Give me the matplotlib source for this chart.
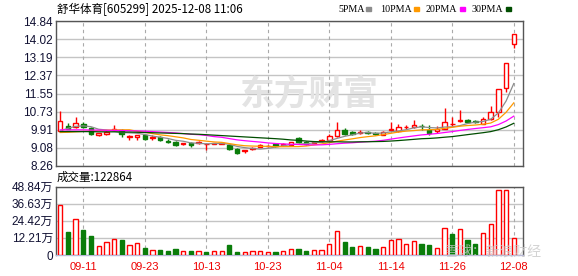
import numpy as np
import pandas as pd
import matplotlib
matplotlib.use("Agg")
import matplotlib.pyplot as plt

# ---- data ----
dates = ["09-08", "09-09", "09-10", "09-11", "09-12", "09-15", "09-16", "09-17", "09-18", "09-19",
         "09-22", "09-23", "09-24", "09-25", "09-26", "09-29", "09-30",
         "10-09", "10-10", "10-13", "10-14", "10-15", "10-16", "10-17", "10-20", "10-21", "10-22",
         "10-23", "10-24", "10-27", "10-28", "10-29", "10-30", "10-31",
         "11-03", "11-04", "11-05", "11-06", "11-07", "11-10", "11-11", "11-12", "11-13", "11-14",
         "11-17", "11-18", "11-19", "11-20", "11-21", "11-24", "11-25", "11-26", "11-27", "11-28",
         "12-01", "12-02", "12-03", "12-04", "12-05", "12-08"]

opens = [9.86, 10.09, 10.01, 10.18, 9.98, 9.65, 9.71, 9.88, 9.91, 9.56,
         9.59, 9.68, 9.53, 9.59, 9.41, 9.35, 9.24, 9.29, 9.29, 9.25,
         9.27, 9.27, 9.20, 9.02, 8.92, 9.02, 9.14, 9.15, 9.26, 9.20,
         9.21, 9.53, 9.35, 9.31, 9.39, 9.44, 9.60, 9.91, 9.82, 9.78,
         9.82, 9.76, 9.68, 9.89, 9.86, 10.01, 10.01, 10.09, 9.91, 9.83,
         9.94, 10.18, 10.31, 10.36, 10.30, 10.18, 10.39, 10.69, 11.80, 13.79]
highs = [10.74, 10.21, 10.48, 10.27, 10.04, 9.77, 9.84, 10.13, 9.95, 9.66,
         9.66, 9.73, 9.65, 9.64, 9.47, 9.40, 9.32, 9.33, 9.38, 9.27,
         9.31, 9.34, 9.23, 9.06, 9.00, 9.11, 9.24, 9.22, 9.29, 9.29,
         9.36, 9.57, 9.39, 9.38, 9.47, 9.73, 10.24, 9.97, 9.84, 9.89,
         9.86, 9.80, 9.84, 10.27, 10.18, 10.12, 10.36, 10.18, 10.12, 10.06,
         10.89, 10.50, 10.81, 10.41, 10.36, 10.47, 10.99, 11.76, 12.94, 14.23]
lows = [9.82, 9.92, 9.99, 9.98, 9.68, 9.62, 9.66, 9.86, 9.58, 9.45,
        9.42, 9.42, 9.44, 9.41, 9.32, 9.17, 9.21, 9.12, 9.26, 9.00,
        9.24, 9.25, 9.00, 8.82, 8.85, 8.97, 9.11, 9.12, 9.14, 9.18,
        9.18, 9.32, 9.23, 9.29, 9.36, 9.40, 9.59, 9.67, 9.66, 9.70,
        9.72, 9.66, 9.66, 9.86, 9.82, 9.95, 9.97, 9.91, 9.67, 9.76,
        9.94, 10.07, 10.27, 10.22, 10.20, 10.16, 10.36, 10.47, 11.60, 13.61]
closes = [10.32, 9.95, 10.21, 10.01, 9.73, 9.74, 9.79, 9.94, 9.71, 9.64,
          9.65, 9.50, 9.59, 9.44, 9.37, 9.23, 9.29, 9.21, 9.35, 9.25,
          9.29, 9.32, 9.02, 8.87, 8.97, 9.08, 9.20, 9.18, 9.17, 9.26,
          9.33, 9.35, 9.26, 9.35, 9.43, 9.64, 9.88, 9.73, 9.70, 9.82,
          9.76, 9.70, 9.82, 9.94, 10.03, 10.04, 10.13, 10.06, 9.76, 9.95,
          10.24, 10.18, 10.33, 10.24, 10.26, 10.39, 10.69, 11.76, 12.94, 14.23]
# volume in 万
volumes = [35.9, 16.5, 25.8, 17.9, 13.6, 6.5, 9.3, 11.5, 10.8, 7.2,
           8.6, 5.0, 3.6, 3.6, 2.9, 4.3, 2.9, 2.9, 2.9, 2.2,
           2.9, 2.9, 7.2, 2.2, 2.2, 2.9, 2.9, 2.2, 2.2, 2.9,
           4.3, 4.3, 2.9, 3.6, 3.6, 7.9, 17.2, 9.3, 5.7, 6.5,
           5.7, 4.3, 5.7, 10.8, 11.5, 7.9, 10.1, 7.9, 7.2, 5.0,
           19.4, 15.1, 18.7, 10.8, 7.9, 15.8, 22.3, 46.0, 46.0, 12.2864]

# moving averages before a full window exists (history not shown on chart)
ma5_head = [9.86, 9.97, 10.06, 10.08]
ma10_head = [9.78, 9.79, 9.81, 9.83, 9.84, 9.86, 9.88, 9.90, 9.90]
ma20_head = [9.90, 9.90, 9.90, 9.90, 9.89, 9.89, 9.88, 9.88, 9.87, 9.86,
             9.85, 9.84, 9.82, 9.80, 9.78, 9.76, 9.73, 9.70, 9.68]
ma30_head = [9.82, 9.82, 9.82, 9.82, 9.82, 9.81, 9.81, 9.81, 9.80, 9.80,
             9.79, 9.78, 9.77, 9.76, 9.75, 9.74, 9.73, 9.71, 9.70, 9.68,
             9.66, 9.64, 9.62, 9.60, 9.58, 9.56, 9.54, 9.52, 9.50]

price_ticks = [8.26, 9.08, 9.91, 10.73, 11.55, 12.37, 13.19, 14.02, 14.84]
vol_ticks = [0, 12.21, 24.42, 36.63, 48.84]

RED = "#ff0000"
GREEN = "#0a7d0a"
W, H = 578, 276


def fx(x):
    return x / W


def fy(y):
    return 1 - y / H


def moving_avg(n, head):
    s = pd.Series(closes).rolling(n).mean().to_numpy()
    s[:n - 1] = head
    return s


fig = plt.figure(figsize=(W / 100, H / 100), dpi=100)
ax1 = fig.add_axes([fx(56), fy(166), fx(523 - 56), (166 - 21) / H])
ax2 = fig.add_axes([fx(56), fy(255), fx(523 - 56), (255 - 186.5) / H])

x = np.arange(len(dates))
o, h, l, c = map(np.array, (opens, highs, lows, closes))
up = c >= o
top = np.maximum(o, c)
bot = np.minimum(o, c)

# candles
for col, m in ((RED, up), (GREEN, ~up)):
    ax1.vlines(x[m], top[m], h[m], color=col, lw=1, zorder=2)
    ax1.vlines(x[m], l[m], bot[m], color=col, lw=1, zorder=2)
ax1.bar(x[up], (top - bot)[up], bottom=bot[up], width=0.58,
        facecolor="white", edgecolor=RED, lw=1, zorder=3)
ax1.bar(x[~up], (top - bot)[~up], bottom=bot[~up], width=0.58,
        facecolor=GREEN, edgecolor=GREEN, lw=1, zorder=3)

# moving averages
ma_cols = ["#8c8c8c", "#ff9900", "#ff00ff", "#004d00"]
for (n, head), col in zip([(5, ma5_head), (10, ma10_head), (20, ma20_head), (30, ma30_head)], ma_cols):
    ax1.plot(x, moving_avg(n, head), color=col, lw=0.9, zorder=4)

# volume
v = np.array(volumes)
vup = c > o
ax2.bar(x[vup], v[vup], width=0.56, facecolor="white", edgecolor=RED, lw=1, zorder=3)
ax2.bar(x[~vup], v[~vup], width=0.56, facecolor=GREEN, edgecolor=GREEN, lw=1, zorder=3)

label_idx = list(range(3, len(dates), 8))
for ax in (ax1, ax2):
    ax.set_xlim(-0.55, 60.2)
    ax.set_xticks([])
    ax.set_axisbelow(True)
    for i in label_idx:
        ax.axvline(i, color="#aaaaaa", lw=0.8, ls=(0, (3, 3)), zorder=1)
    for s in ax.spines.values():
        s.set_color("#555555")
        s.set_linewidth(1)
    ax.tick_params(axis="y", length=0, pad=2.2, labelsize=8.5, colors="#111133")

ax1.set_ylim(price_ticks[0], price_ticks[-1])
ax1.set_yticks(price_ticks)
ax1.set_yticklabels([f"{t:.2f}" for t in price_ticks], family="Liberation Sans")
ax1.grid(axis="y", color="#c4c4c4", lw=1)

ax2.set_ylim(0, vol_ticks[-1])
ax2.set_yticks(vol_ticks)
ax2.set_yticklabels(["0"] + [f"{t:.2f}万" for t in vol_ticks[1:]],
                    family=["Liberation Sans", "Noto Sans CJK SC"])
ax2.grid(axis="y", color="#c4c4c4", lw=1)
ax2.spines["bottom"].set_color("#b8b8d8")

# date labels
for i in label_idx:
    fig.text(fx(60.2 + 7.686 * i), fy(267), dates[i], color="#ee0000",
             fontsize=8, ha="center", va="center", family="Liberation Sans")

# titles / legends
fig.text(fx(57), fy(9), "舒华体育[605299] 2025-12-08 11:06", fontsize=8.3,
         ha="left", va="center", family=["Noto Sans CJK SC", "DejaVu Sans"])
fig.text(fx(57), fy(177.5), "成交量:122864", fontsize=8.3,
         ha="left", va="center", family=["Noto Sans CJK SC", "DejaVu Sans"])

legend_items = [("5PMA", 338, 366), ("10PMA", 380, 414), ("20PMA", 426, 460), ("30PMA", 472, 506)]
for (name, tx, sx), col in zip(legend_items, ma_cols):
    fig.text(fx(tx), fy(9), name, fontsize=7.2, ha="left", va="center", family="Liberation Serif")
    fig.patches.append(plt.Rectangle((fx(sx), fy(10.5)), 5 / W, 3 / H, color=col,
                                     transform=fig.transFigure, figure=fig))

# watermarks
ax1.text(fx(309), fy(94), "东方财富", transform=fig.transFigure, fontsize=25,
         fontweight="bold", color="#e3e3e3", ha="center", va="center",
         family="Noto Sans CJK SC", zorder=0.6)
ax2.text(fx(494), fy(252), "雪球：新浪财经", transform=fig.transFigure, fontsize=10,
         color="#c8c8c8", alpha=0.8, ha="center", va="center",
         family="Noto Sans CJK SC", zorder=5)

fig.savefig("out.png", dpi=100)
